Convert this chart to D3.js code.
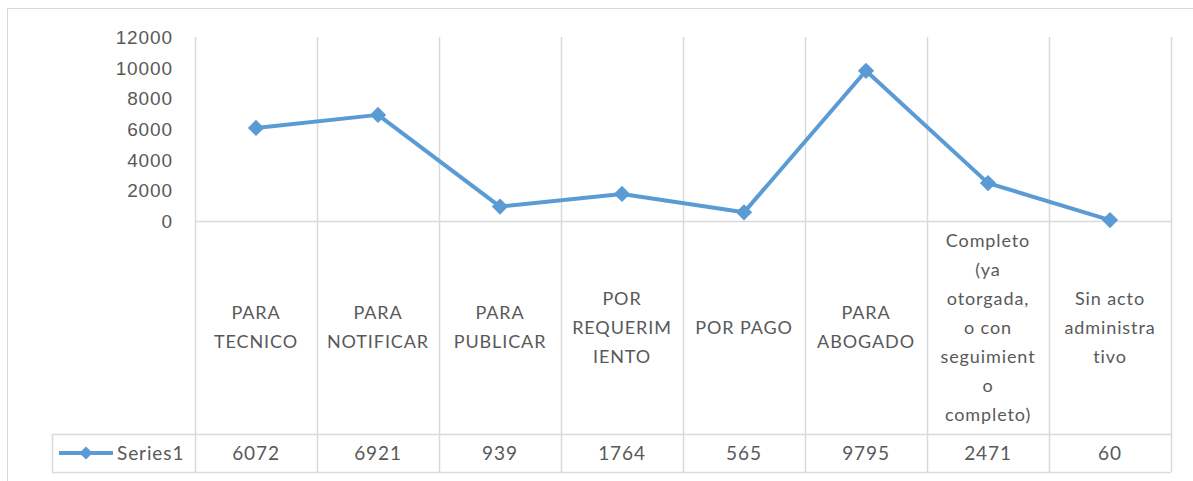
<!DOCTYPE html>
<html>
<head>
<meta charset="utf-8">
<script src="https://cdn.jsdelivr.net/npm/d3@7"></script>
<style>
  body { margin: 0; background: #fff; }
  svg { display: block; font-family: Lato, "Open Sans", sans-serif; }
  svg text { letter-spacing: 0.9px; }
</style>
</head>
<body>
<div id="chart"></div>
<script>
// data
var categories = ["PARA TECNICO", "PARA NOTIFICAR", "PARA PUBLICAR", "POR REQUERIMIENTO",
    "POR PAGO", "PARA ABOGADO", "Completo (ya otorgada, o con seguimiento completo)", "Sin acto administrativo"];
// how Excel wrapped each label
var labelLines = [
    ["PARA", "TECNICO"],
    ["PARA", "NOTIFICAR"],
    ["PARA", "PUBLICAR"],
    ["POR", "REQUERIM", "IENTO"],
    ["POR PAGO"],
    ["PARA", "ABOGADO"],
    ["Completo", "(ya", "otorgada,", "o con", "seguimient", "o", "completo)"],
    ["Sin acto", "administra", "tivo"]
];
var series1 = [6072, 6921, 939, 1764, 565, 9795, 2471, 60];
var seriesName = "Series1";
var yTicks = [0, 2000, 4000, 6000, 8000, 10000, 12000];

var W = 1193, H = 481;
var plotLeft = 195, plotRight = 1171, plotTop = 37, zeroY = 221;
var tableTop = 434, tableBottom = 472, legendLeft = 52;
var gridColor = "#d9d9d9", textColor = "#595959", lineColor = "#5b9bd5";

var svg = d3.select("#chart").append("svg")
    .attr("width", W)
    .attr("height", H);

// chart frame
svg.append("rect")
    .attr("x", 7.5).attr("y", 8.5)
    .attr("width", W + 10).attr("height", H + 10)
    .attr("fill", "none")
    .attr("stroke", gridColor);

var x = d3.scaleBand()
    .domain(categories)
    .range([plotLeft, plotRight]);

var y = d3.scaleLinear()
    .domain([0, 12000])
    .range([zeroY, plotTop]);

// vertical gridlines through plot and table
var bounds = categories.map(function (c) { return x(c); }).concat([plotRight]);
svg.append("g").selectAll("line")
    .data(bounds)
    .enter()
    .append("line")
    .attr("x1", function (d) { return Math.round(d) + 0.5; })
    .attr("x2", function (d) { return Math.round(d) + 0.5; })
    .attr("y1", plotTop)
    .attr("y2", tableBottom)
    .attr("stroke", gridColor)
    .attr("stroke-width", 1.5);

// zero line
svg.append("line")
    .attr("x1", plotLeft).attr("x2", plotRight)
    .attr("y1", y(0) + 0.5).attr("y2", y(0) + 0.5)
    .attr("stroke", gridColor).attr("stroke-width", 1.5);

// table row lines
[tableTop, tableBottom].forEach(function (ty) {
    svg.append("line")
        .attr("x1", legendLeft).attr("x2", plotRight)
        .attr("y1", ty + 0.5).attr("y2", ty + 0.5)
        .attr("stroke", gridColor).attr("stroke-width", 1.5);
});
svg.append("line")
    .attr("x1", legendLeft + 0.5).attr("x2", legendLeft + 0.5)
    .attr("y1", tableTop).attr("y2", tableBottom)
    .attr("stroke", gridColor).attr("stroke-width", 1.5);

// y axis labels
var yAxis = d3.axisLeft(y)
    .tickValues(yTicks)
    .tickSize(0)
    .tickPadding(0)
    .tickFormat(d3.format("d"));

var yg = svg.append("g")
    .attr("transform", "translate(173,0)")
    .call(yAxis);
yg.select(".domain").remove();
yg.selectAll("text")
    .attr("fill", textColor)
    .style("font-size", "19px")
    .attr("dy", "0.35em");

// category labels
var lineH = 29, labelMid = (zeroY + tableTop) / 2;
var labels = svg.append("g").selectAll("text")
    .data(labelLines)
    .enter()
    .append("text")
    .attr("text-anchor", "middle")
    .attr("fill", textColor)
    .style("font-size", "18px")
    .attr("transform", function (d, i) {
        return "translate(" + (x(categories[i]) + x.bandwidth() / 2) + "," + labelMid + ")";
    });
labels.selectAll("tspan")
    .data(function (d) { return d.map(function (t, j) { return { t: t, j: j, n: d.length }; }); })
    .enter()
    .append("tspan")
    .attr("x", 0)
    .attr("y", function (d) { return (d.j - (d.n - 1) / 2) * lineH; })
    .attr("dy", "0.35em")
    .text(function (d) { return d.t; });

// table values
var rowMid = (tableTop + tableBottom) / 2;
svg.append("g").selectAll("text")
    .data(series1)
    .enter()
    .append("text")
    .attr("x", function (d, i) { return x(categories[i]) + x.bandwidth() / 2; })
    .attr("y", rowMid)
    .attr("dy", "0.35em")
    .attr("text-anchor", "middle")
    .attr("fill", textColor)
    .style("font-size", "19px")
    .text(function (d) { return d; });

// legend key in table
svg.append("line")
    .attr("x1", 59).attr("x2", 113)
    .attr("y1", rowMid).attr("y2", rowMid)
    .attr("stroke", lineColor).attr("stroke-width", 4);
svg.append("path")
    .attr("d", d3.symbol().type(d3.symbolDiamond2).size(110))
    .attr("transform", "translate(86," + rowMid + ")")
    .attr("fill", lineColor);
svg.append("text")
    .attr("x", 117).attr("y", rowMid)
    .attr("dy", "0.35em")
    .attr("fill", textColor)
    .style("font-size", "19px")
    .text(seriesName);

// the line
var line = d3.line()
    .x(function (d, i) { return x(categories[i]) + x.bandwidth() / 2; })
    .y(function (d) { return y(d); });

svg.append("path")
    .datum(series1)
    .attr("d", line)
    .attr("fill", "none")
    .attr("stroke", lineColor)
    .attr("stroke-width", 4)
    .attr("stroke-linejoin", "round");

svg.append("g").selectAll("path")
    .data(series1)
    .enter()
    .append("path")
    .attr("d", d3.symbol().type(d3.symbolDiamond2).size(170))
    .attr("transform", function (d, i) {
        return "translate(" + (x(categories[i]) + x.bandwidth() / 2) + "," + y(d) + ")";
    })
    .attr("fill", lineColor);
</script>
</body>
</html>
